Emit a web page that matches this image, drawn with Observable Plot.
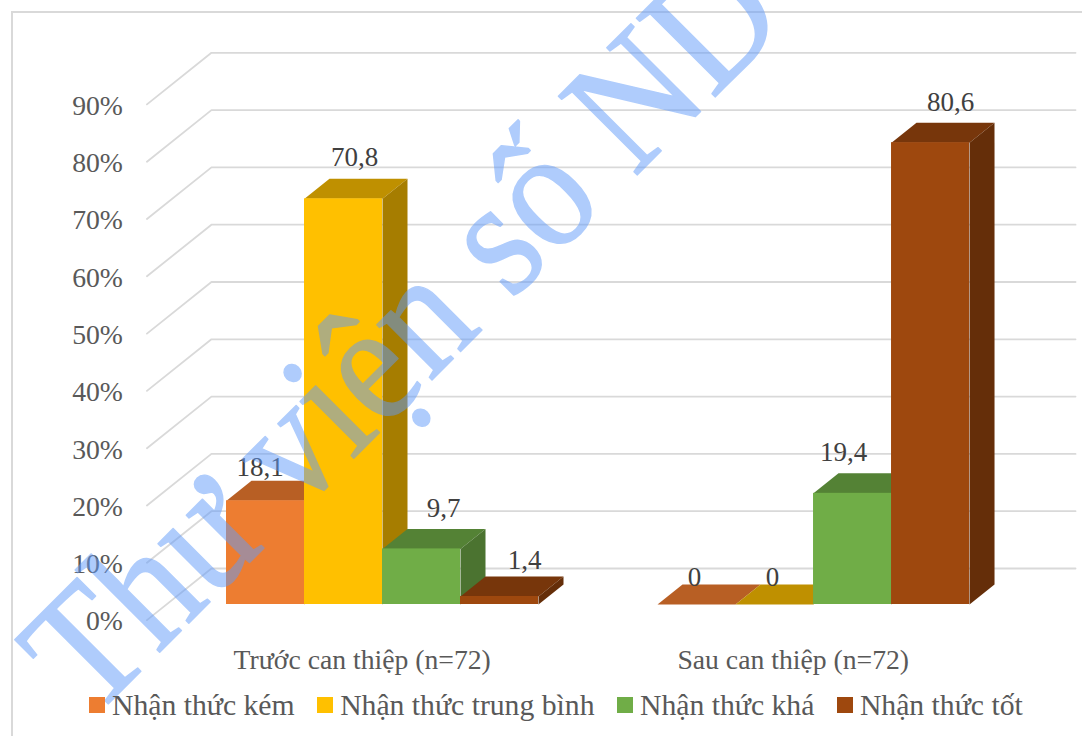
<!DOCTYPE html>
<html>
<head>
<meta charset="utf-8">
<script src="https://cdn.jsdelivr.net/npm/d3@7"></script>
<script src="https://cdn.jsdelivr.net/npm/@observablehq/plot@0.6"></script>
<style>
  html, body { margin: 0; padding: 0; background: #fff; overflow: hidden; }
  #page { position: relative; width: 1082px; height: 736px; font-family: "Liberation Serif", serif; }
  #frame { position: absolute; left: 11px; top: 11px; right: -10px; bottom: -10px; border: 2.5px solid #d9d9d9; }
  #chart { position: absolute; left: 0; top: 0; }
  #chart svg { background: transparent; overflow: visible; }
  #legend { position: absolute; left: 89px; top: 687px; height: 36px; display: flex; align-items: center;
            color: #595959; font-size: 29.7px; white-space: nowrap; }
  #legend i { display: inline-block; width: 16px; height: 16px; margin-right: 7px; }
  #legend span { display: inline-flex; align-items: center; margin-right: 22.5px; }
</style>
</head>
<body>
<div id="page">
  <div id="frame"></div>
  <div id="chart"></div>
  <div id="legend"></div>
</div>
<script>
// Survey results: share of participants per awareness level, before and after the intervention.
const categories = ["Trước can thiệp (n=72)", "Sau can thiệp (n=72)"];
const levels = ["Nhận thức kém", "Nhận thức trung bình", "Nhận thức khá", "Nhận thức tốt"];
const beforeValues = [18.1, 70.8, 9.7, 1.4];
const afterValues = [0, 0, 19.4, 80.6];
const valueTicks = [0, 10, 20, 30, 40, 50, 60, 70, 80, 90];
const valueLabels = ["18,1", "70,8", "9,7", "1,4", "0", "0", "19,4", "80,6"];

// Face colours per level: front, top, side.
const frontColors = ["#ed7d31", "#ffc000", "#70ad47", "#9e480e"];
const topColors = ["#b85f24", "#bf9000", "#548235", "#77360b"];
const sideColors = ["#a05220", "#a67d00", "#4b7330", "#652e09"];

// Layout: one slot is one column wide, and the oblique depth axis shifts both x and y.
const slotPx = 78, pctPx = 5.73;
const groupStart = [0, 5.526];
const depthX = 25 / slotPx, depthY = 20 / pctPx;
const wallFront = -0.78, wallBack = 1.8, wallLeft = -0.77, wallRight = 10.885;
const xDomain = [0, 10], yDomain = [0, 90];

// Hand placement of the value labels, in pixels from each column's top centre.
const labelNudge = [[-5.5, -33], [11, -41], [22, -40.5], [25, -36], [-2, -27], [-2, -27], [-9, -41], [20, -40]];

const bars = [beforeValues, afterValues].flatMap((values, g) =>
  values.map((value, i) => ({
    level: i,
    value,
    x1: groupStart[g] + i,
    x2: groupStart[g] + i + 1
  }))
);
bars.forEach((b, i) => { b.id = i; b.label = valueLabels[i]; b.nudge = labelNudge[i]; });

// Top and side faces, each a closed polygon; columns overlap from left to right.
const faces = bars.flatMap((b) => {
  const bx = b.x2 + depthX, by = b.value + depthY;
  const top = [[b.x1, b.value], [b.x1 + depthX, by], [bx, by], [b.x2, b.value]];
  const side = [[b.x2, b.value], [bx, by], [bx, depthY], [b.x2, 0]];
  return [
    ...top.map(([x, y]) => ({ x, y, key: `t${b.id}`, fill: topColors[b.level] })),
    ...(b.value > 0 ? side.map(([x, y]) => ({ x, y, key: `s${b.id}`, fill: sideColors[b.level] })) : [])
  ];
});

// Gridlines run from the front of the floor up the left wall and along the back wall.
const grid = valueTicks.flatMap((t) => [
  { x: wallLeft + wallFront * depthX, y: t + wallFront * depthY, t },
  { x: wallLeft + wallBack * depthX, y: t + wallBack * depthY, t },
  { x: wallRight, y: t + wallBack * depthY, t }
]);

const font = { fontFamily: "Liberation Serif, serif", fontSize: 27 };
const axisFont = { fontFamily: "Liberation Serif, serif", fontSize: 27.7 };

const chart = Plot.plot({
  width: 1082,
  height: 690,
  margin: 0,
  x: { domain: xDomain, range: [226, 226 + 10 * slotPx], axis: null },
  y: { domain: yDomain, range: [604, 604 - 90 * pctPx], axis: null },
  color: { type: "identity" },
  marks: [
    Plot.line(grid, { x: "x", y: "y", z: "t", stroke: "#d9d9d9", strokeWidth: 1.8 }),
    Plot.text(valueTicks, {
      x: () => wallLeft + wallFront * depthX,
      y: (t) => t + wallFront * depthY,
      text: (t) => `${t}%`,
      textAnchor: "end",
      dx: -24,
      dy: 1.5,
      fill: "#595959",
      ...axisFont
    }),
    Plot.line(faces, { x: "x", y: "y", z: "key", fill: "fill", stroke: "none" }),
    Plot.rect(bars, {
      x1: "x1", x2: "x2", y1: () => 0, y2: "value",
      fill: (b) => frontColors[b.level]
    }),
    Plot.text(bars, {
      x: (b) => (b.x1 + b.x2) / 2 + b.nudge[0] / slotPx,
      y: (b) => b.value - b.nudge[1] / pctPx,
      text: "label",
      fill: "#404040",
      ...font
    }),
    Plot.text(categories, {
      x: (_, i) => groupStart[i] + 2 - 0.26,
      y: () => -9.7,
      text: (d) => d,
      fill: "#595959",
      ...axisFont
    }),
    // Diagonal library watermark laid over the whole chart, condensed along its baseline.
    Plot.text(["Thư viện số ND"], {
      frameAnchor: "bottom-left",
      dx: 91,
      dy: 30,
      text: (d) => d,
      rotate: -45,
      textAnchor: "start",
      lineAnchor: "bottom",
      fill: "#619bfb",
      stroke: "#619bfb",
      strokeWidth: 1.5,
      opacity: 0.5,
      fontFamily: "Liberation Serif, serif",
      fontSize: 170,
      render(index, scales, values, dimensions, context, next) {
        const g = next(index, scales, values, dimensions, context);
        d3.select(g).selectAll("text").attr("transform", function () {
          return `${this.getAttribute("transform")} scale(0.9,1)`;
        });
        return g;
      }
    })
  ]
});
document.getElementById("chart").append(chart);

const legend = document.getElementById("legend");
levels.forEach((name, i) => {
  const item = document.createElement("span");
  const swatch = document.createElement("i");
  swatch.style.background = frontColors[i];
  item.append(swatch, name);
  legend.append(item);
});
</script>
</body>
</html>
